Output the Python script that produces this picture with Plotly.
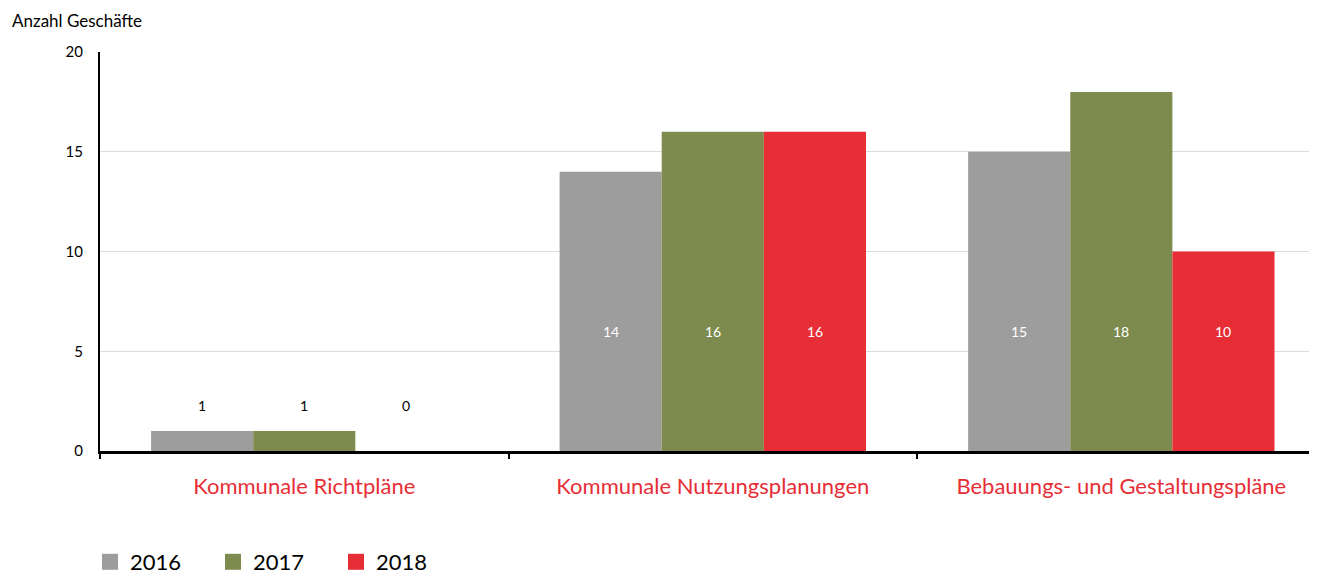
import plotly.graph_objects as go

categories = ["Kommunale Richtpläne", "Kommunale Nutzungsplanungen", "Bebauungs- und Gestaltungspläne"]
years = ["2016", "2017", "2018"]
values_2016 = [1, 14, 15]
values_2017 = [1, 16, 18]
values_2018 = [0, 16, 10]
colors = ["#9d9d9d", "#7d8c4e", "#e72d36"]
series = [values_2016, values_2017, values_2018]

FONT = "Lato"
# page body has an 8px default margin, so figure is sized/offset accordingly
W, H = 1309, 566
L, T, B = 92, 44, 123
PW, PH = W - L, H - T - B

fig = go.Figure()
for yr, vals, col in zip(years, series, colors):
    fig.add_trace(go.Bar(x=categories, y=vals, name=yr, marker=dict(color=col, line=dict(width=0)),
                         showlegend=False, hoverinfo="x+y"))
    fig.add_trace(go.Scatter(x=[None], y=[None], mode="markers", name=yr,
                             marker=dict(symbol="square", size=17, color=col)))

annotations = []
for k, vals in enumerate(series):
    for i, v in enumerate(vals):
        big = v >= 5
        annotations.append(dict(x=i + (k - 1) * 0.25, y=6 if big else 2.3, xref="x", yref="y",
                                text=str(v), showarrow=False,
                                font=dict(family=FONT, size=14, color="white" if big else "black")))
annotations.append(dict(x=(2 - L) / PW, y=1 + (T - 13) / PH, xref="paper", yref="paper",
                        xanchor="left", yanchor="middle",
                        text="Anzahl Geschäfte", showarrow=False,
                        font=dict(family=FONT, size=17, color="black")))

fig.update_layout(
    width=W, height=H,
    margin=dict(l=L, r=0, t=T, b=B, autoexpand=False),
    barmode="group", bargap=0.25, bargroupgap=0,
    plot_bgcolor="white", paper_bgcolor="white",
    font=dict(family=FONT, color="black"),
    annotations=annotations,
    legend=dict(orientation="h", x=(82 - L) / PW, y=-(554 - (H - B)) / PH, xanchor="left", yanchor="middle",
                font=dict(family=FONT, size=22, color="black"),
                entrywidth=78, entrywidthmode="pixels", itemsizing="trace"),
    xaxis=dict(type="category", range=[-0.5, 2.479], tickson="boundaries", ticks="outside",
               ticklen=5, tickwidth=1.5, tickcolor="black", showline=True, linecolor="black",
               linewidth=3, showgrid=False, ticklabelstandoff=14, automargin=False,
               tickfont=dict(family=FONT, size=22, color="#e72d36")),
    yaxis=dict(range=[0, 20], dtick=5, showline=True, linecolor="black", linewidth=2,
               gridcolor="#dcdcdc", gridwidth=1, zeroline=False, ticks="", ticklabelstandoff=12,
               automargin=False,
               tickfont=dict(family=FONT, size=15, color="black")),
)
fig.write_html("out.html")
